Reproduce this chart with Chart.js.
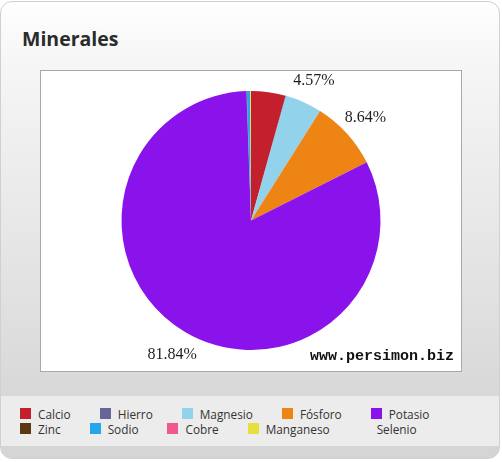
<!DOCTYPE html>
<html>
<head>
<meta charset="utf-8">
<script src="https://cdn.jsdelivr.net/npm/chart.js@4.4.1/dist/chart.umd.min.js"></script>
<style>
  html, body { margin: 0; padding: 0; background: #ffffff; }
  #card {
    position: absolute; left: 0; top: 1px; width: 498px; height: 456px;
    border: 1px solid #d0d0d0; border-radius: 12px; overflow: hidden;
    background: linear-gradient(to bottom, #fefefe 0px, #f6f6f6 60px, #d8d8d8 394px);
  }
  #title {
    position: absolute; left: 21px; top: 23px; line-height: 24px;
    font: bold 19.5px "Open Sans", sans-serif; color: #2b2b2b;
  }
  #plot {
    position: absolute; left: 39px; top: 68px; width: 420px; height: 300px;
    border: 1px solid #a8a8a8; background: #ffffff;
  }
  #plot canvas { display: block; }
  #mark {
    position: absolute; right: 7px; bottom: 6px; line-height: 18px;
    font: bold 15px "Liberation Mono", monospace; color: #111;
  }
  #legendband {
    position: absolute; left: 0; top: 394px; width: 498px; height: 50px; background: #ececec;
  }
  #bottomband {
    position: absolute; left: 0; top: 444px; width: 498px; height: 12px; background: #d5d5d5;
  }
  #legend {
    position: absolute; left: 20px; top: 406px; width: 470px;
    display: flex; flex-wrap: wrap; font: 11.8px "Open Sans", sans-serif; color: #333;
  }
  .item { display: flex; align-items: center; height: 15px; margin-right: 29px; }
  .box { width: 11px; height: 11px; margin-right: 7px; }
</style>
</head>
<body>
<div id="card">
  <div id="title">Minerales</div>
  <div id="plot"><canvas id="c" width="420" height="300"></canvas><div id="mark">www.persimon.biz</div></div>
  <div id="legendband"></div>
  <div id="bottomband"></div>
</div>
<div id="legend"></div>
<script>
const categories = ['Calcio', 'Hierro', 'Magnesio', 'Fósforo', 'Potasio', 'Zinc', 'Sodio', 'Cobre', 'Manganeso', 'Selenio'];
const values = [4.3, 0.08, 4.57, 8.64, 81.84, 0.05, 0.4, 0.02, 0.1, 0];
const pctLabels = ['', '', '4.57%', '8.64%', '81.84%', '', '', '', '', ''];
const colors = ['#c31f2d', '#65659a', '#92d2ea', '#ee8414', '#8a13ec', '#5b3714', '#26a5eb', '#ee5a8c', '#e6df3e', 'rgba(0,0,0,0)'];

const pctPlugin = {
  id: 'pctLabels',
  afterDatasetsDraw(chart) {
    const ctx = chart.ctx;
    const meta = chart.getDatasetMeta(0);
    ctx.save();
    ctx.font = '16px "Liberation Serif", serif';
    ctx.fillStyle = '#1e1e1e';
    ctx.textAlign = 'center';
    ctx.textBaseline = 'middle';
    meta.data.forEach((arc, i) => {
      const t = pctLabels[i];
      if (!t) return;
      const a = (arc.startAngle + arc.endAngle) / 2;
      const r = arc.outerRadius + 25;
      ctx.fillText(t, arc.x + Math.cos(a) * r, arc.y + Math.sin(a) * r + 1);
    });
    ctx.restore();
  }
};

const chart = new Chart(document.getElementById('c'), {
  type: 'pie',
  data: {
    labels: categories,
    datasets: [{ data: values, backgroundColor: colors, borderWidth: 0 }]
  },
  options: {
    responsive: false,
    animation: false,
    layout: { padding: { top: 20, bottom: 21, left: 0, right: 0 } },
    plugins: { legend: { display: false }, tooltip: { enabled: false } }
  },
  plugins: [pctPlugin]
});

const legendEl = document.getElementById('legend');
categories.forEach((name, i) => {
  const it = document.createElement('div');
  it.className = 'item';
  const b = document.createElement('span');
  b.className = 'box';
  b.style.background = colors[i];
  const t = document.createElement('span');
  t.textContent = name;
  it.appendChild(b); it.appendChild(t);
  legendEl.appendChild(it);
});
</script>
</body>
</html>
